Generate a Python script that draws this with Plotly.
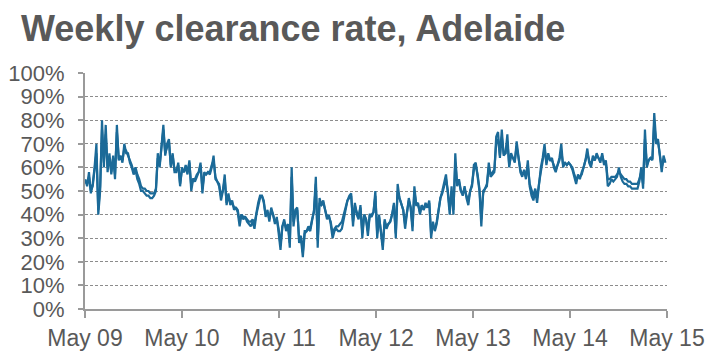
import pandas as pd
import plotly.graph_objects as go

start_date = "2009-05-02"

weekly_rate = [
    55, 52, 58, 49, 53, 60, 70, 40, 50, 80,
    60, 78, 58, 66, 57, 65, 55, 78, 63, 65,
    62, 70, 66, 66, 62, 60, 57, 59, 55, 53,
    50, 50, 49, 48, 48, 47, 47, 48, 50, 66,
    60, 70, 78, 65, 70, 72, 60, 66, 58, 58,
    62, 52, 60, 58, 60, 57, 63, 50, 55, 54,
    56, 58, 62, 49, 58, 57, 58, 57, 60, 65,
    55, 54, 52, 46, 50, 57, 44, 49, 44, 46,
    42, 43, 41, 35, 40, 38, 39, 37, 36, 35,
    37, 34, 40, 44, 47, 48, 46, 39, 42, 37,
    43, 40, 36, 39, 33, 25, 35, 38, 33, 36,
    26, 60, 35, 42, 43, 28, 30, 22, 32, 33,
    34, 33, 38, 42, 56, 26, 47, 44, 46, 42,
    38, 40, 36, 30, 33, 34, 33, 33, 34, 38,
    42, 46, 48, 49, 35, 45, 40, 38, 44, 30,
    40, 38, 31, 40, 39, 41, 50, 30, 40, 33,
    25, 38, 34, 36, 37, 40, 45, 30, 53, 47,
    44, 42, 34, 42, 47, 43, 33, 52, 44, 45,
    40, 44, 42, 45, 43, 46, 30, 37, 33, 36,
    42, 47, 50, 53, 57, 49, 40, 52, 40, 66,
    52, 55, 50, 48, 52, 47, 44, 50, 52, 61,
    62, 56, 50, 35, 50, 51, 52, 62, 56, 57,
    58, 73, 75, 64, 76, 65, 66, 74, 60, 66,
    64, 62, 71, 64, 58, 56, 59, 55, 63, 52,
    48, 46, 50, 45, 54, 60, 64, 70, 61, 66,
    63, 64, 60, 58, 61, 64, 70, 60, 62, 61,
    62, 61, 59, 56, 53, 57, 55, 58, 60, 63,
    68, 62, 60, 65, 63, 66, 64, 62, 66, 61,
    63, 52, 53, 55, 54, 55, 56, 60, 56, 54,
    53, 53, 52, 52, 51, 51, 51, 51, 54, 60,
    51, 76, 60, 63, 64, 63, 83, 71, 72, 64,
    58, 65, 62,
]

revised_rate = [
    54, 53, 56, 50, 52, 58, 66, 42, 52, 76,
    62, 74, 60, 64, 58, 64, 57, 75, 64, 64,
    63, 68, 67, 65, 63, 61, 58, 60, 57, 55,
    52, 51, 51, 50, 50, 49, 49, 49, 51, 64,
    61, 68, 76, 66, 69, 71, 61, 65, 59, 59,
    61, 53, 59, 58, 61, 58, 62, 52, 55, 55,
    57, 58, 61, 51, 57, 57, 58, 58, 61, 63,
    56, 54, 53, 48, 50, 55, 45, 48, 45, 45,
    43, 43, 42, 37, 40, 39, 39, 38, 37, 37,
    38, 36, 41, 45, 48, 48, 45, 40, 41, 38,
    42, 40, 37, 38, 34, 27, 35, 37, 34, 36,
    28, 56, 37, 41, 42, 30, 31, 24, 33, 33,
    35, 34, 38, 41, 53, 29, 45, 44, 45, 42,
    39, 39, 37, 32, 34, 35, 35, 36, 37, 40,
    43, 46, 47, 48, 37, 44, 41, 39, 43, 32,
    40, 38, 33, 40, 40, 41, 48, 32, 39, 34,
    27, 37, 35, 36, 37, 40, 44, 32, 50, 47,
    44, 42, 36, 42, 46, 43, 35, 50, 44, 44,
    41, 44, 42, 44, 43, 45, 32, 35, 34, 37,
    43, 47, 49, 52, 55, 50, 42, 50, 42, 62,
    53, 54, 50, 49, 51, 48, 46, 50, 53, 59,
    61, 57, 51, 38, 49, 51, 53, 60, 57, 58,
    59, 70, 72, 65, 73, 66, 66, 71, 61, 65,
    64, 63, 69, 64, 59, 57, 58, 56, 61, 53,
    50, 48, 51, 47, 53, 58, 63, 68, 62, 65,
    63, 63, 61, 59, 61, 63, 67, 61, 62, 61,
    62, 61, 60, 57, 55, 56, 56, 57, 60, 62,
    66, 63, 61, 64, 63, 65, 64, 63, 65, 62,
    62, 55, 55, 56, 56, 56, 57, 58, 57, 56,
    55, 55, 54, 54, 53, 53, 53, 53, 55, 58,
    53, 72, 61, 63, 64, 64, 79, 70, 71, 65,
    60, 63, 63,
]

tick_dates = ["2009-05-01", "2010-05-01", "2011-05-01", "2012-05-01",
              "2013-05-01", "2014-05-01", "2015-05-01"]
tick_labels = ["May 09", "May 10", "May 11", "May 12", "May 13", "May 14", "May 15"]
y_ticks = [0, 10, 20, 30, 40, 50, 60, 70, 80, 90, 100]
y_labels = [f"{v}%" for v in y_ticks]

dates = pd.date_range(start_date, periods=len(weekly_rate), freq="7D")

line_color = "#1B6A98"
text_color = "#595959"
axis_color = "#9a9a9a"

fig = go.Figure()
fig.add_trace(go.Scatter(x=dates, y=revised_rate, mode="lines",
                         line=dict(color=line_color, width=2.2), hoverinfo="skip"))
fig.add_trace(go.Scatter(x=dates, y=weekly_rate, mode="lines",
                         line=dict(color=line_color, width=2.2), hoverinfo="skip"))

# page body adds an 8px offset, so the figure is 8px smaller and shifted
fig.update_layout(
    width=714, height=356,
    margin=dict(l=77, r=55, t=65, b=55, autoexpand=False),
    paper_bgcolor="white", plot_bgcolor="white",
    showlegend=False,
    font=dict(family="Liberation Sans, Arial, sans-serif", color=text_color, size=22),
    title=dict(text="<b>Weekly clearance rate, Adelaide</b>",
               x=13 / 714, xanchor="left", xref="container",
               y=1 - 20 / 356, yanchor="middle", yref="container",
               font=dict(size=36, color=text_color)),
)
fig.update_xaxes(
    type="date", range=["2009-05-01", "2015-05-01"],
    tickvals=tick_dates, ticktext=tick_labels,
    showgrid=False, showline=True, linecolor=axis_color, linewidth=2,
    ticks="outside", ticklen=7, tickcolor=axis_color, tickwidth=1.5,
    tickfont=dict(size=23, color=text_color), zeroline=False, automargin=False,
)
fig.update_yaxes(
    range=[0, 100], tickvals=y_ticks, ticktext=y_labels,
    showgrid=True, gridcolor="#8c8c8c", gridwidth=1, griddash="3px,2px",
    showline=True, linecolor=axis_color, linewidth=2,
    ticks="outside", ticklen=5, tickcolor=axis_color, tickwidth=1.5,
    tickfont=dict(size=22, color=text_color), zeroline=False, automargin=False,
    ticklabelstandoff=9,
)

fig.write_html("out.html")
